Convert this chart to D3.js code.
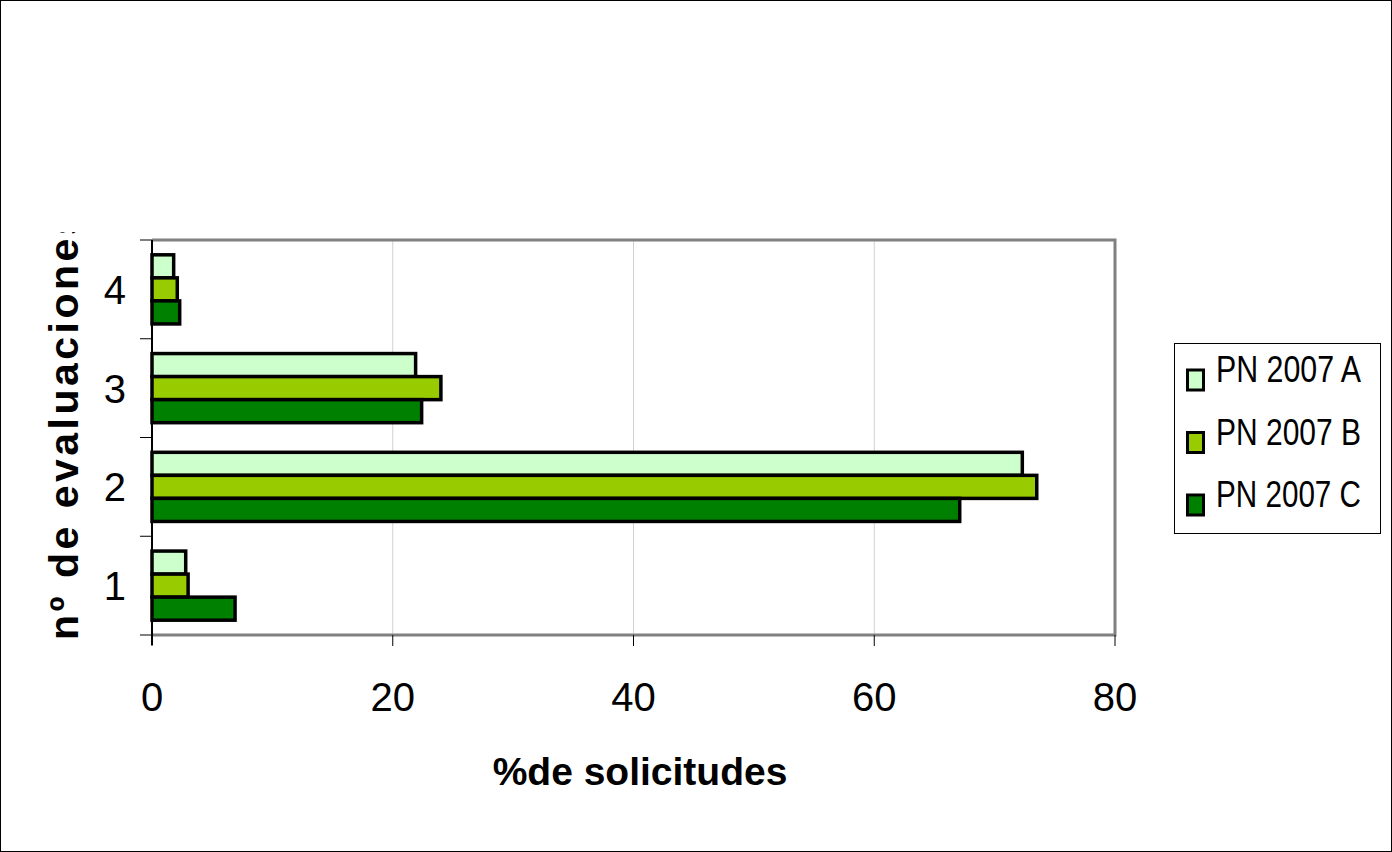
<!DOCTYPE html>
<html>
<head>
<meta charset="utf-8" />
<style>
    body { margin: 0; background: #fff; }
    svg { display: block; font-family: "Liberation Sans", Arial, sans-serif; }
</style>
</head>
<body>
<div id="chart"></div>
<script src="https://d3js.org/d3.v7.min.js"></script>
<script>
    // data
    var categories = ['1', '2', '3', '4'];
    var seriesNames = ['PN 2007 A', 'PN 2007 B', 'PN 2007 C'];
    var valuesA = [2.8, 72.3, 21.9, 1.8];
    var valuesB = [3.0, 73.5, 24.0, 2.1];
    var valuesC = [6.9, 67.1, 22.4, 2.3];
    var xTicks = [0, 20, 40, 60, 80];
    var colors = ['#ccffcc', '#99cc00', '#008000'];

    (function(d3) {
        'use strict';

        var width = 1392, height = 852;
        var plotLeft = 152, plotRight = 1115, plotTop = 240, plotBottom = 635;

        var series = [valuesA, valuesB, valuesC];

        var svg = d3.select('#chart').append('svg')
            .attr('width', width)
            .attr('height', height);

        svg.append('rect')
            .attr('x', 0.5).attr('y', 0.5)
            .attr('width', width - 1).attr('height', height - 1)
            .attr('fill', '#fff').attr('stroke', '#000');

        var x = d3.scaleLinear().domain([0, 80]).range([plotLeft, plotRight]);
        // category 1 at the bottom
        var y = d3.scaleBand().domain(categories).range([plotBottom, plotTop])
            .paddingInner(0.3).paddingOuter(0.15);
        var y1 = d3.scaleBand().domain(d3.range(3)).range([0, y.bandwidth()]);

        // grid lines
        svg.append('g').selectAll('line')
            .data(xTicks.slice(1, -1))
            .enter().append('line')
            .attr('x1', d => x(d)).attr('x2', d => x(d))
            .attr('y1', plotTop).attr('y2', plotBottom)
            .attr('stroke', '#d0d0d0').attr('stroke-width', 1);

        // plot border (gray)
        svg.append('path')
            .attr('d', 'M' + plotLeft + ',' + plotTop + 'H' + plotRight + 'V' + plotBottom + 'H' + plotLeft)
            .attr('fill', 'none').attr('stroke', '#808080').attr('stroke-width', 3);

        // bars
        var groups = svg.append('g').selectAll('g')
            .data(categories)
            .enter().append('g')
            .attr('transform', d => 'translate(0,' + y(d) + ')');

        groups.selectAll('rect')
            .data((d, i) => series.map((s, k) => ({ k: k, v: s[i] })))
            .enter().append('rect')
            .attr('x', x(0))
            .attr('y', d => y1(d.k))
            .attr('width', d => x(d.v) - x(0))
            .attr('height', y1.bandwidth())
            .attr('fill', d => colors[d.k])
            .attr('stroke', '#000')
            .attr('stroke-width', 3.5);

        // y axis
        var yAxisG = svg.append('g');
        yAxisG.append('line')
            .attr('x1', plotLeft).attr('x2', plotLeft)
            .attr('y1', plotTop).attr('y2', plotBottom + 10)
            .attr('stroke', '#000').attr('stroke-width', 2);
        yAxisG.selectAll('.tick')
            .data(d3.range(categories.length + 1))
            .enter().append('line')
            .attr('x1', plotLeft - 12).attr('x2', plotLeft)
            .attr('y1', i => plotBottom - i * y.step())
            .attr('y2', i => plotBottom - i * y.step())
            .attr('stroke', '#000').attr('stroke-width', 1);
        yAxisG.selectAll('text')
            .data(categories)
            .enter().append('text')
            .attr('x', 126)
            .attr('y', d => y(d) + y.bandwidth() / 2)
            .attr('dy', '0.36em')
            .attr('text-anchor', 'end')
            .attr('font-size', 40)
            .text(d => d);

        // x axis
        var xAxisG = svg.append('g');
        xAxisG.selectAll('line')
            .data(xTicks)
            .enter().append('line')
            .attr('x1', d => x(d)).attr('x2', d => x(d))
            .attr('y1', plotBottom).attr('y2', plotBottom + 11)
            .attr('stroke', '#000').attr('stroke-width', 1);
        xAxisG.selectAll('text')
            .data(xTicks)
            .enter().append('text')
            .attr('x', d => x(d))
            .attr('y', 711)
            .attr('text-anchor', 'middle')
            .attr('font-size', 40)
            .text(d => d);

        // axis titles
        svg.append('text')
            .attr('x', 640).attr('y', 785)
            .attr('text-anchor', 'middle')
            .attr('font-size', 39)
            .attr('font-weight', 'bold')
            .text('%de solicitudes');

        // the y title is cut at the top in the original
        svg.append('clipPath').attr('id', 'ytitle-clip')
            .append('rect').attr('x', 0).attr('y', 232).attr('width', 140).attr('height', 500);
        svg.append('g')
            .attr('clip-path', 'url(#ytitle-clip)')
            .append('text')
            .attr('transform', 'translate(78,640) rotate(-90)')
            .attr('font-size', 41)
            .attr('font-weight', 'bold')
            .attr('letter-spacing', 3.5)
            .text('nº de evaluaciones');

        // legend
        var legend = svg.append('g').attr('transform', 'translate(1174,343)');
        legend.append('rect')
            .attr('x', 0.5).attr('y', 0.5)
            .attr('width', 206).attr('height', 190)
            .attr('fill', '#fff').attr('stroke', '#000').attr('stroke-width', 1);
        var item = legend.selectAll('.item')
            .data(seriesNames)
            .enter().append('g')
            .attr('transform', (d, i) => 'translate(0,' + (39 + i * 62.5) + ')');
        item.append('rect')
            .attr('x', 13.5).attr('y', -12)
            .attr('width', 16).attr('height', 20)
            .attr('fill', (d, i) => colors[i])
            .attr('stroke', '#000').attr('stroke-width', 3);
        item.append('text')
            .attr('x', 42).attr('y', 0)
            .attr('font-size', 36)
            .attr('textLength', 145)
            .attr('lengthAdjust', 'spacingAndGlyphs')
            .text(d => d);
    })(window.d3);
</script>
</body>
</html>
